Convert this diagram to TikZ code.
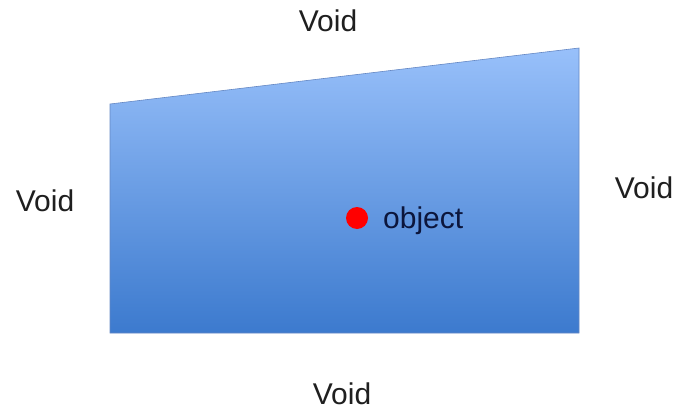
\documentclass[tikz,border=0pt]{standalone}
\usepackage{fontspec}
\setmainfont{Liberation Sans}
\definecolor{topblue}{RGB}{152,192,250}
\definecolor{botblue}{RGB}{60,122,206}
\definecolor{edgeblue}{RGB}{100,135,195}
\definecolor{navy}{RGB}{12,22,60}
\tikzset{
  voidlabel/.style={font=\fontsize{30}{30}\selectfont, text=black!88, inner sep=0pt},
  objlabel/.style={font=\fontsize{30}{30}\selectfont, text=navy, inner sep=0pt, anchor=base west},
}
\begin{document}
\begin{tikzpicture}[x=1pt,y=-1pt]
\useasboundingbox (0,0) rectangle (677,412);
\coordinate (tl) at (110,104);
\coordinate (tr) at (579,48);
\coordinate (br) at (579,333);
\coordinate (bl) at (110,333);
\shade[top color=topblue, bottom color=botblue, draw=edgeblue, line width=0.6pt]
  (tl) -- (tr) -- (br) -- (bl) -- cycle;
\fill[red] (357,218) circle[radius=11];
\node[objlabel] (obj) at (383,228) {object};
\node[voidlabel] (vt) at (328,21) {Void};
\node[voidlabel] (vl) at (45,201) {Void};
\node[voidlabel] (vr) at (644,188) {Void};
\node[voidlabel] (vb) at (342,394) {Void};
\end{tikzpicture}
\end{document}
